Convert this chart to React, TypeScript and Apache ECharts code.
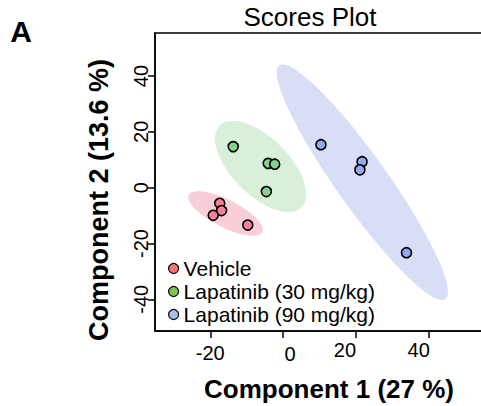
import React, { useEffect, useRef } from "react";
import * as echarts from "echarts";

// Sample scores on the first two components, one array per treatment group
const groupNames = ["Vehicle", "Lapatinib (30 mg/kg)", "Lapatinib (90 mg/kg)"];
const vehicleScores: number[][] = [
  [-17.4, -5.6],
  [-16.9, -8.2],
  [-19.2, -9.9],
  [-9.7, -13.4],
];
const lap30Scores: number[][] = [
  [-13.7, 14.7],
  [-4.1, 8.7],
  [-2.3, 8.4],
  [-4.6, -1.4],
];
const lap90Scores: number[][] = [
  [10.4, 15.4],
  [21.7, 9.3],
  [21.1, 6.4],
  [33.9, -23.3],
];
const xTickValues = [-20, 0, 20, 40];
const yTickValues = [-40, -20, 0, 20, 40];

const FONT = "'Liberation Sans', Arial, Helvetica, sans-serif";
const pointColors = ["#F2839A", "#88D08C", "#93A9EA"];
const legendColors = ["#F4757C", "#7EC54C", "#AABFE7"];
const ellipseColors = ["#F9CED8", "#D8EFD9", "#D8DEF6"];
// per-label nudges [dx, dy] for the x tick labels
const xLabelNudge: Record<string, [number, number]> = {
  "-20": [0, 3],
  "0": [7, 4],
  "20": [-11, 0],
  "40": [-10, 0],
};

// 95% confidence ellipse from the group's covariance (chi-square, 2 df)
function confidenceEllipse(pts: number[][], segments = 120): number[][] {
  const n = pts.length;
  const mx = pts.reduce((s, p) => s + p[0], 0) / n;
  const my = pts.reduce((s, p) => s + p[1], 0) / n;
  let sxx = 0, syy = 0, sxy = 0;
  for (const [x, y] of pts) {
    sxx += (x - mx) * (x - mx);
    syy += (y - my) * (y - my);
    sxy += (x - mx) * (y - my);
  }
  sxx /= n - 1;
  syy /= n - 1;
  sxy /= n - 1;
  const sx = Math.sqrt(sxx);
  const sy = Math.sqrt(syy);
  const r = Math.max(-1, Math.min(1, sxy / (sx * sy)));
  const d = Math.acos(r);
  const t = Math.sqrt(-2 * Math.log(1 - 0.95));
  const out: number[][] = [];
  for (let i = 0; i < segments; i++) {
    const a = (i / segments) * 2 * Math.PI;
    out.push([mx + t * sx * Math.cos(a + d / 2), my + t * sy * Math.cos(a - d / 2)]);
  }
  return out;
}

export default function App() {
  const ref = useRef<HTMLDivElement>(null);

  useEffect(() => {
    if (!ref.current) return;
    const chart = echarts.init(ref.current, undefined, { renderer: "svg" });
    const groups = [vehicleScores, lap30Scores, lap90Scores];

    const ellipseSeries = groups.map((pts, i) => {
      const ring = confidenceEllipse(pts);
      return {
        type: "custom",
        name: groupNames[i] + " ellipse",
        silent: true,
        z: 1,
        data: [[0, 0]],
        renderItem: (_params: any, api: any) => ({
          type: "polygon",
          shape: { points: ring.map((p) => api.coord(p)) },
          style: { fill: ellipseColors[i], stroke: "none" },
        }),
      };
    });

    const pointSeries = groups.map((pts, i) => ({
      type: "scatter",
      name: groupNames[i],
      z: 3,
      symbol: "circle",
      symbolSize: 10,
      itemStyle: { color: pointColors[i], borderColor: "#000", borderWidth: 1.6, opacity: 1 },
      data: pts,
    }));

    const rich: Record<string, any> = {};
    xTickValues.forEach((v, i) => {
      const [dx, dy] = xLabelNudge[String(v)] || [0, 0];
      rich["t" + i] = {
        fontSize: 20,
        fontFamily: FONT,
        color: "#000",
        padding: [dy, dx < 0 ? -2 * dx : 0, 0, dx > 0 ? 2 * dx : 0],
      };
    });

    const axisLine = { show: true, onZero: false, lineStyle: { color: "#000", width: 1.5 } };

    chart.setOption({
      animation: false,
      grid: {
        left: 155,
        top: 33,
        width: 335,
        height: 298,
        show: true,
        borderColor: "#000",
        borderWidth: 1.5,
        backgroundColor: "transparent",
        outerBoundsMode: "none",
        containLabel: false,
      },
      xAxis: {
        type: "value",
        min: -35.19,
        max: 56.84,
        splitLine: { show: false },
        axisLine,
        axisTick: {
          show: true,
          inside: false,
          length: 7,
          lineStyle: { color: "#000", width: 1.5 },
          customValues: xTickValues,
        },
        axisLabel: {
          customValues: xTickValues,
          margin: 9,
          color: "#000",
          fontSize: 20,
          fontFamily: FONT,
          formatter: (v: number) => {
            const i = xTickValues.indexOf(v);
            return i >= 0 ? `{t${i}|${v}}` : String(v);
          },
          rich,
        },
      },
      yAxis: {
        type: "value",
        min: -51.36,
        max: 55.41,
        splitLine: { show: false },
        axisLine,
        axisTick: {
          show: true,
          inside: false,
          length: 7,
          lineStyle: { color: "#000", width: 1.5 },
          customValues: yTickValues,
        },
        axisLabel: {
          customValues: yTickValues,
          rotate: 90,
          margin: 4,
          color: "#000",
          fontSize: 20,
          fontFamily: FONT,
        },
      },
      legend: {
        orient: "vertical",
        left: 168,
        top: 258,
        icon: "circle",
        itemWidth: 10,
        itemHeight: 10,
        itemGap: 2,
        padding: 0,
        selectedMode: false,
        textStyle: { fontSize: 21, fontFamily: FONT, color: "#000", lineHeight: 20, padding: [0, 0, 0, 0] },
        data: groupNames.map((g, i) => ({
          name: g,
          itemStyle: { color: legendColors[i], borderColor: "#000", borderWidth: 1.2 },
        })),
      },
      graphic: [
        {
          type: "text",
          x: 21,
          y: 31,
          style: { text: "A", fontSize: 30, fontWeight: "bold", fontFamily: FONT, fill: "#000", textAlign: "center", textVerticalAlign: "middle" },
        },
        {
          type: "text",
          x: 310,
          y: 17,
          style: { text: "Scores Plot", fontSize: 26, fontFamily: FONT, fill: "#000", textAlign: "center", textVerticalAlign: "middle" },
        },
        {
          type: "text",
          x: 99,
          y: 200,
          rotation: Math.PI / 2,
          style: { text: "Component 2 (13.6 %)", fontSize: 27, fontWeight: "bold", fontFamily: FONT, fill: "#000", textAlign: "center", textVerticalAlign: "middle" },
        },
        {
          type: "text",
          x: 329,
          y: 389,
          style: { text: "Component 1 (27 %)", fontSize: 26, fontWeight: "bold", fontFamily: FONT, fill: "#000", textAlign: "center", textVerticalAlign: "middle" },
        },
      ],
      series: [...ellipseSeries, ...pointSeries],
    });

    return () => chart.dispose();
  }, []);

  return (
    <div
      ref={ref}
      style={{ position: "absolute", left: 0, top: 0, width: 481, height: 406 }}
    />
  );
}
